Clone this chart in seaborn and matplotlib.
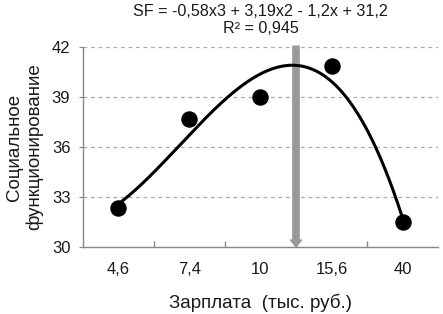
import numpy as np
import pandas as pd
import matplotlib
matplotlib.use("Agg")
import matplotlib.pyplot as plt
import seaborn as sns

categories = ["4,6", "7,4", "10", "15,6", "40"]
values = [32.35, 37.65, 39.0, 40.85, 31.5]
y_ticks = [30, 33, 36, 39, 42]
title_text = "SF = -0,58x3 + 3,19x2 - 1,2x + 31,2\nR² = 0,945"

sns.set_theme(style="white")
plt.rcParams["font.family"] = ["Liberation Sans", "DejaVu Sans"]
txt = "#1a1a1a"

pos = np.arange(1, len(categories) + 1)
df = pd.DataFrame({"x": pos, "y": values})

coef = np.polyfit(pos, values, 3)
xs = np.linspace(1, 5, 200)
trend = pd.DataFrame({"x": xs, "y": np.polyval(coef, xs)})

fig = plt.figure(figsize=(4.43, 3.14), dpi=100)
ax = fig.add_axes([0.187, 0.2134, 0.802, 0.637])

for yv in y_ticks[1:]:
    ax.axhline(yv, color="#aaaaaa", lw=0.9, ls=(0, (3, 3)), zorder=0)

sns.lineplot(data=trend, x="x", y="y", ax=ax, color="black", lw=2.2, zorder=3)
sns.scatterplot(data=df, x="x", y="y", ax=ax, color="black", s=120,
                edgecolor="black", zorder=4)

ax.annotate("", xy=(3.5, 30.0), xytext=(3.5, 42.05),
            arrowprops=dict(width=4.5, headwidth=8, headlength=5,
                            color="#999999", shrink=0),
            zorder=2, annotation_clip=False)

ax.set_xlim(0.5, 5.5)
ax.set_ylim(30, 42)
ax.set_yticks(y_ticks)
ax.set_yticklabels([str(v) for v in y_ticks], fontsize=12, color=txt)
ax.set_xticks(pos)
ax.set_xticklabels(categories, fontsize=12, color=txt)
ax.tick_params(axis="x", length=0, pad=11)
ax.tick_params(axis="y", length=3, width=0.8, color="#888888", pad=6, left=True)
ax.set_xticks(np.arange(1.5, 5.5, 1), minor=True)
ax.tick_params(axis="x", which="minor", direction="in", length=4, color="#888888", bottom=True)

for s in ["top", "right"]:
    ax.spines[s].set_visible(False)
for s in ["left", "bottom"]:
    ax.spines[s].set_color("#888888")
    ax.spines[s].set_linewidth(1.0)

ax.set_xlabel("Зарплата  (тыс. руб.)", fontsize=13.5, labelpad=12, color=txt)
ax.set_ylabel("Социальное\nфункционирование", fontsize=13.5, labelpad=6,
              color=txt, linespacing=1.2)
ax.set_title(title_text, fontsize=11.6, pad=10, linespacing=1.2, color=txt)

fig.savefig("out.png", dpi=100)
